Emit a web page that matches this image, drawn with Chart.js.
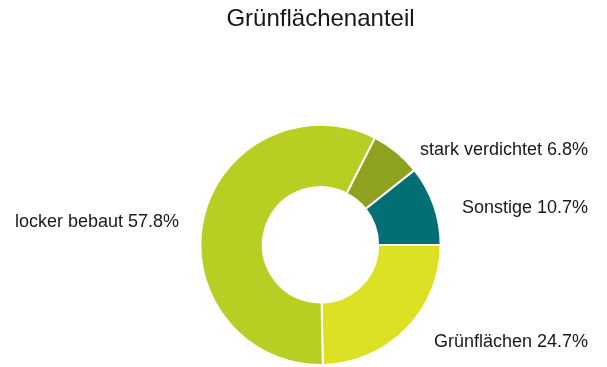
<!DOCTYPE html>
<html lang="de">
<head>
<meta charset="utf-8">
<title>Grünflächenanteil</title>
<script src="https://cdn.jsdelivr.net/npm/chart.js@4"></script>
<style>
  html, body { margin: 0; padding: 0; background: #fff; }
  #wrap { width: 607px; height: 367px; position: relative; }
</style>
</head>
<body>
<div id="wrap"><canvas id="gruen-chart"></canvas></div>
<script>
// Anteile der Flächennutzung
const kategorien = ["Grünflächen", "locker bebaut", "stark verdichtet", "Sonstige"];
const anteile = [24.7, 57.8, 6.8, 10.7];
const farben = ["#dde124", "#b8ce23", "#8fa21f", "#026f74"];

const schrift = '"Liberation Sans", Arial, Helvetica, sans-serif';

// Beschriftungen außerhalb des Rings: links linksbündig, rechts rechtsbündig
const aussenLabels = {
    id: 'aussenLabels',
    afterDatasetsDraw(chart) {
        const ctx = chart.ctx;
        const meta = chart.getDatasetMeta(0);
        ctx.save();
        ctx.font = '18px ' + schrift;
        ctx.fillStyle = '#181818';
        ctx.textBaseline = 'alphabetic';
        meta.data.forEach((arc, i) => {
            const p = arc.getProps(['x', 'y', 'startAngle', 'endAngle'], true);
            const mitte = (p.startAngle + p.endAngle) / 2;
            const y = p.y + Math.sin(mitte) * 130 + 11;
            const text = kategorien[i] + ' ' + anteile[i].toFixed(1) + '%';
            if (Math.cos(mitte) >= 0) {
                ctx.textAlign = 'right';
                ctx.fillText(text, chart.width - 19, y);
            } else {
                ctx.textAlign = 'left';
                ctx.fillText(text, 15, y);
            }
        });
        ctx.restore();
    }
};

const ctx = document.getElementById("gruen-chart").getContext("2d");
new Chart(ctx, {
    type: 'doughnut',
    data: {
        labels: kategorien,
        datasets: [{
            data: anteile,
            backgroundColor: farben,
            borderColor: '#ffffff',
            borderWidth: 2
        }]
    },
    options: {
        responsive: true,
        maintainAspectRatio: false,
        animation: false,
        rotation: 90,
        cutout: '48%',
        layout: {
            padding: { left: 34, bottom: 1 }
        },
        plugins: {
            legend: { display: false },
            tooltip: { enabled: false },
            title: {
                display: true,
                text: 'Grünflächenanteil',
                color: '#181818',
                font: { family: schrift, size: 24, weight: 'normal' },
                padding: { top: 5, bottom: 90 }
            }
        }
    },
    plugins: [aussenLabels]
});
</script>
</body>
</html>
